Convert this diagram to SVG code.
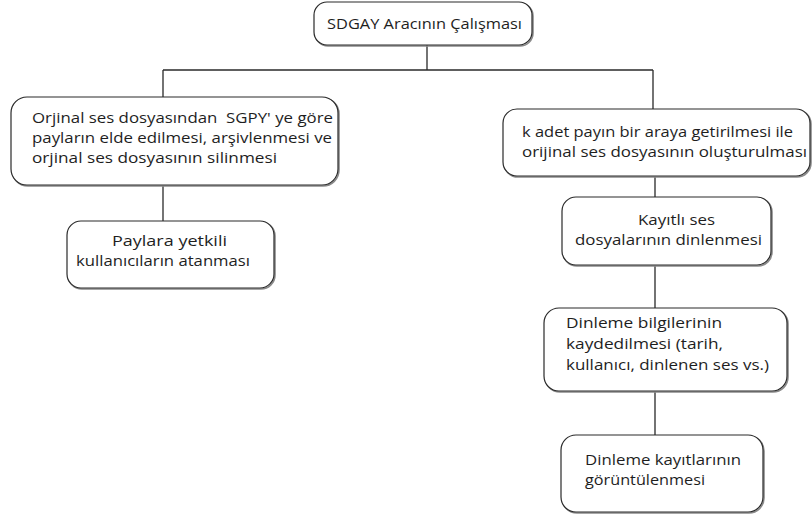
<svg xmlns="http://www.w3.org/2000/svg" width="812" height="515" viewBox="0 0 812 515">
<style>
.bg{fill:#ffffff}
.sh{fill:none;stroke:#8a8a8a;stroke-width:1.6}
.bx{fill:#ffffff;stroke:#2a2a2a;stroke-width:1.2}
.t{font-family:"Open Sans","Noto Sans","Liberation Sans",sans-serif;font-size:15px;fill:#1e1e1e}
.c{fill:none;stroke:#2a2a2a;stroke-width:1.3}
</style>
<rect class="bg" x="0" y="0" width="812" height="515"/>
<g id="connectors">
<path class="c" d="M427 45V70M163 70H653M163 70V97M653 70V109"/>
<path class="c" d="M163 186V221"/>
<path class="c" d="M655 177V197M655 266V308M655 392V435"/>
</g>
<g id="n1">
<rect class="sh" x="315" y="3" width="218" height="43" rx="13"/>
<rect class="bx" x="314" y="2" width="218" height="43" rx="13"/>
<text class="t" x="327" y="29" textLength="195" lengthAdjust="spacingAndGlyphs">SDGAY Aracının Çalışması</text>
</g>
<g id="n2">
<rect class="sh" x="12" y="98" width="327" height="88" rx="16"/>
<rect class="bx" x="11" y="97" width="327" height="88" rx="16"/>
<text class="t" x="32" y="123" textLength="301" lengthAdjust="spacingAndGlyphs" xml:space="preserve">Orjinal ses dosyasından  SGPY' ye göre</text>
<text class="t" x="32" y="143" textLength="300" lengthAdjust="spacingAndGlyphs">payların elde edilmesi, arşivlenmesi ve</text>
<text class="t" x="32" y="163" textLength="245" lengthAdjust="spacingAndGlyphs">orjinal ses dosyasının silinmesi</text>
</g>
<g id="n3">
<rect class="sh" x="68" y="222" width="207" height="67" rx="14"/>
<rect class="bx" x="67" y="221" width="207" height="67" rx="14"/>
<text class="t" x="112" y="246" textLength="115" lengthAdjust="spacingAndGlyphs">Paylara yetkili</text>
<text class="t" x="76" y="266" textLength="174" lengthAdjust="spacingAndGlyphs">kullanıcıların atanması</text>
</g>
<g id="n4">
<rect class="sh" x="504" y="110" width="307" height="67" rx="14"/>
<rect class="bx" x="503" y="109" width="307" height="67" rx="14"/>
<text class="t" x="522" y="137" textLength="271" lengthAdjust="spacingAndGlyphs">k adet payın bir araya getirilmesi ile</text>
<text class="t" x="522" y="157" textLength="285" lengthAdjust="spacingAndGlyphs">orijinal ses dosyasının oluşturulması</text>
</g>
<g id="n5">
<rect class="sh" x="563" y="198" width="209" height="68" rx="14"/>
<rect class="bx" x="562" y="197" width="209" height="68" rx="14"/>
<text class="t" x="638" y="225" textLength="77" lengthAdjust="spacingAndGlyphs">Kayıtlı ses</text>
<text class="t" x="575" y="245" textLength="187" lengthAdjust="spacingAndGlyphs">dosyalarının dinlenmesi</text>
</g>
<g id="n6">
<rect class="sh" x="545" y="309" width="243" height="83" rx="15"/>
<rect class="bx" x="544" y="308" width="243" height="83" rx="15"/>
<text class="t" x="566" y="328" textLength="156" lengthAdjust="spacingAndGlyphs">Dinleme bilgilerinin</text>
<text class="t" x="566" y="349" textLength="157" lengthAdjust="spacingAndGlyphs">kaydedilmesi (tarih,</text>
<text class="t" x="566" y="370" textLength="203" lengthAdjust="spacingAndGlyphs">kullanıcı, dinlenen ses vs.)</text>
</g>
<g id="n7">
<rect class="sh" x="562" y="436" width="202" height="77" rx="15"/>
<rect class="bx" x="561" y="435" width="202" height="77" rx="15"/>
<text class="t" x="585" y="465" textLength="156" lengthAdjust="spacingAndGlyphs">Dinleme kayıtlarının</text>
<text class="t" x="585" y="485" textLength="120" lengthAdjust="spacingAndGlyphs">görüntülenmesi</text>
</g>
</svg>
